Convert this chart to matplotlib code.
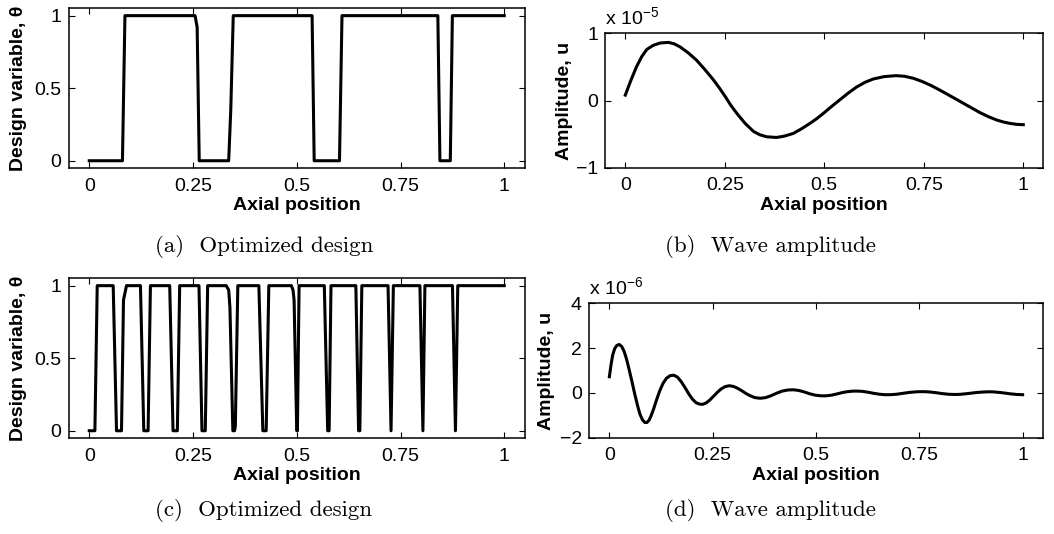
import matplotlib
matplotlib.use("Agg")
import matplotlib.pyplot as plt

W, H = 1054, 534

# ---------------- data ----------------
# (a) optimized design, coarse
xa = [0, 0.080, 0.086, 0.255, 0.260, 0.265, 0.336, 0.341, 0.347, 0.537, 0.542,
      0.603, 0.609, 0.840, 0.845, 0.870, 0.875, 1.0]
ta = [0, 0, 1, 1, 0.92, 0, 0, 0.35, 1, 1, 0, 0, 1, 1, 0, 0, 1, 1]

# (b) wave amplitude (units of 1e-5)
xb = [0, 0.014, 0.028, 0.041, 0.054, 0.070, 0.087, 0.108, 0.122, 0.137, 0.158,
      0.179, 0.200, 0.221, 0.236, 0.251, 0.265, 0.280, 0.301, 0.322, 0.338,
      0.355, 0.380, 0.400, 0.422, 0.443, 0.464, 0.481, 0.498, 0.518, 0.539,
      0.560, 0.581, 0.602, 0.623, 0.650, 0.680, 0.702, 0.724, 0.745, 0.766,
      0.787, 0.807, 0.828, 0.849, 0.870, 0.891, 0.912, 0.933, 0.950, 0.966,
      0.983, 1.0]
ub = [0.08, 0.30, 0.50, 0.65, 0.76, 0.82, 0.855, 0.865, 0.845, 0.80, 0.71,
      0.60, 0.46, 0.31, 0.19, 0.06, -0.07, -0.19, -0.34, -0.46, -0.51,
      -0.54, -0.55, -0.53, -0.49, -0.42, -0.34, -0.27, -0.19, -0.09, 0.01,
      0.11, 0.20, 0.27, 0.32, 0.355, 0.37, 0.36, 0.33, 0.285, 0.23,
      0.165, 0.10, 0.03, -0.04, -0.11, -0.18, -0.24, -0.29, -0.32, -0.34,
      -0.355, -0.36]

# (c) optimized design, fine
xc = [0, 0.0136, 0.0192, 0.0577, 0.0657, 0.0777, 0.0825, 0.0897,
      0.1234, 0.1314, 0.1418, 0.1474, 0.1939, 0.2019, 0.2123, 0.2179,
      0.2644, 0.2716, 0.2796, 0.2853, 0.330, 0.336, 0.339, 0.346, 0.350, 0.352,
      0.358, 0.4087, 0.4183, 0.4263, 0.4327, 0.487, 0.491, 0.4936, 0.500,
      0.5016, 0.5056, 0.5664, 0.5745, 0.5780, 0.5825, 0.6424, 0.6490, 0.6520,
      0.6568, 0.7200, 0.7272, 0.7328, 0.7968, 0.8040, 0.8088, 0.8752, 0.8824,
      0.8880, 1.0]
tc = [0, 0, 1, 1, 0, 0, 0.9, 1,
      1, 0, 0, 1, 1, 0, 0, 1,
      1, 0, 0, 1, 1, 0.97, 0.85, 0, 0, 0.03,
      1, 1, 0, 0, 1, 1, 0.97, 0.9, 0,
      0, 1, 1, 0, 0, 1, 1, 0, 0,
      1, 1, 0, 1, 1, 0, 1, 1, 0,
      1, 1]

# (d) wave amplitude (units of 1e-6)
xd = [0, 0.004, 0.008, 0.013, 0.018, 0.024, 0.030, 0.036, 0.042, 0.048,
      0.055, 0.061, 0.068, 0.074, 0.080, 0.086, 0.091, 0.096, 0.101, 0.107,
      0.114, 0.122, 0.130, 0.138, 0.147, 0.156, 0.165, 0.174, 0.183, 0.192,
      0.201, 0.210, 0.218, 0.226, 0.234, 0.243, 0.252, 0.261, 0.270, 0.280,
      0.290, 0.300, 0.310, 0.320, 0.330, 0.340, 0.352, 0.365, 0.378, 0.392,
      0.405, 0.418, 0.432, 0.445, 0.458, 0.472, 0.485, 0.498, 0.512, 0.525,
      0.538, 0.552, 0.565, 0.578, 0.590, 0.600, 0.612, 0.626, 0.640, 0.654,
      0.667, 0.680, 0.695, 0.710, 0.725, 0.740, 0.752, 0.764, 0.776, 0.790,
      0.805, 0.820, 0.835, 0.848, 0.862, 0.876, 0.890, 0.905, 0.918, 0.930,
      0.944, 0.958, 0.972, 0.986, 1.0]
ud = [0.72, 1.25, 1.69, 1.98, 2.12, 2.16, 2.07, 1.84, 1.48, 1.03,
      0.48, -0.02, -0.55, -0.95, -1.20, -1.32, -1.32, -1.22, -1.02, -0.72,
      -0.32, 0.10, 0.43, 0.65, 0.77, 0.79, 0.70, 0.50, 0.24, -0.04,
      -0.28, -0.44, -0.50, -0.51, -0.45, -0.32, -0.15, 0.02, 0.17, 0.28,
      0.32, 0.29, 0.21, 0.10, -0.02, -0.12, -0.21, -0.24, -0.21, -0.12,
      -0.01, 0.08, 0.13, 0.14, 0.11, 0.04, -0.04, -0.10, -0.13, -0.13,
      -0.10, -0.04, 0.02, 0.06, 0.08, 0.08, 0.07, 0.03, -0.02, -0.06,
      -0.08, -0.08, -0.06, -0.02, 0.02, 0.045, 0.055, 0.055, 0.04, 0.01,
      -0.03, -0.06, -0.07, -0.065, -0.04, -0.01, 0.02, 0.04, 0.05, 0.045,
      0.02, -0.01, -0.045, -0.07, -0.08]

xticks = [0, 0.25, 0.5, 0.75, 1]
xticklabels = ["0", "0.25", "0.5", "0.75", "1"]
design_yticks = [0, 0.5, 1]
design_yticklabels = ["0", "0.5", "1"]
b_yticks = [-1, 0, 1]
b_yticklabels = ["\u22121", "0", "1"]
d_yticks = [-2, 0, 2, 4]
d_yticklabels = ["\u22122", "0", "2", "4"]
captions = ["(a)  Optimized design", "(b)  Wave amplitude",
            "(c)  Optimized design", "(d)  Wave amplitude"]

# ---------------- figure ----------------
plt.rcParams['font.family'] = ['Liberation Sans', 'DejaVu Sans']
fig = plt.figure(figsize=(W / 100, H / 100), dpi=100)

def rect(l, r, t, b):
    return [l / W, 1 - b / H, (r - l) / W, (b - t) / H]

FS = 14

def style(ax, yt, ytl, ylim):
    ax.set_xlim(-0.05, 1.05)
    ax.set_ylim(*ylim)
    ax.set_xticks(xticks)
    ax.set_xticklabels(xticklabels)
    ax.set_yticks(yt)
    ax.set_yticklabels(ytl)
    ax.tick_params(direction='in', top=True, right=True, length=4, width=0.8,
                   labelsize=FS, pad=5)
    ax.tick_params(axis='x', pad=7)
    for s in ax.spines.values():
        s.set_linewidth(1.1)
    ax.set_xlabel("Axial position", fontsize=FS, fontweight='bold', labelpad=2)

lw = 2.2

axa = fig.add_axes(rect(68.5, 525, 8.4, 168))
axa.plot(xa, ta, color='black', lw=lw)
style(axa, design_yticks, design_yticklabels, (-0.05, 1.05))
axa.set_ylabel("Design variable, \u03b8", fontsize=FS, fontweight='bold', labelpad=5)

axb = fig.add_axes(rect(605.4, 1043.2, 33.3, 167.7))
axb.plot(xb, ub, color='black', lw=lw)
style(axb, b_yticks, b_yticklabels, (-1, 1))
axb.set_ylabel("Amplitude, u", fontsize=FS, fontweight='bold', labelpad=2)
axb.text(0.0, 1.03, "x 10$^{\\mathregular{\u22125}}$", transform=axb.transAxes,
         fontsize=FS, ha='left', va='bottom')

axc = fig.add_axes(rect(68.5, 525, 278.4, 438))
axc.plot(xc, tc, color='black', lw=lw)
style(axc, design_yticks, design_yticklabels, (-0.05, 1.05))
axc.set_ylabel("Design variable, \u03b8", fontsize=FS, fontweight='bold', labelpad=5)

axd = fig.add_axes(rect(588.7, 1043.3, 303.3, 437.7))
axd.plot(xd, ud, color='black', lw=lw)
style(axd, d_yticks, d_yticklabels, (-2, 4))
axd.set_ylabel("Amplitude, u", fontsize=FS, fontweight='bold', labelpad=3)
axd.text(0.0, 1.03, "x 10$^{\\mathregular{\u22126}}$", transform=axd.transAxes,
         fontsize=FS, ha='left', va='bottom')

cap_pos = [(264, 246), (770, 246), (264, 510), (770, 510)]
for txt, (cx, cy) in zip(captions, cap_pos):
    fig.text(cx / W, 1 - cy / H, txt, family='cmr10', fontsize=16.5,
             ha='center', va='center')

fig.savefig("out.png", dpi=100)
